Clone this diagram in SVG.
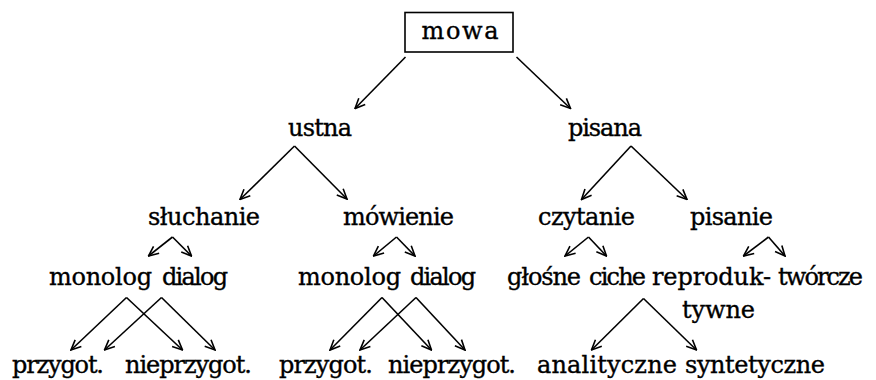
<svg xmlns="http://www.w3.org/2000/svg" width="876" height="380" viewBox="0 0 876 380">
<style>
.c line{stroke:#000;stroke-width:1.6;fill:none;marker-end:url(#ah)}
.box{fill:none;stroke:#000;stroke-width:1.6}
</style>
<defs>
<marker id="ah" markerUnits="userSpaceOnUse" markerWidth="12" markerHeight="12" viewBox="0 0 12 12" refX="11" refY="6" orient="auto">
<path d="M1,1.5 L11,6 L1,10.5" fill="none" stroke="#000" stroke-width="1.6"/>
</marker>
</defs>
<rect width="876" height="380" fill="#fff"/>
<g font-family="DejaVu Serif, Liberation Serif, serif" font-size="24" fill="#000" stroke="#000" stroke-width="0.35">
<g id="mowa"><rect class="box" x="405" y="12.5" width="108" height="39.5"/><text x="421.5" y="39" font-size="24" textLength="77" lengthAdjust="spacing">mowa</text></g>
<g id="ustna"><text x="288" y="136" textLength="64" lengthAdjust="spacing">ustna</text></g>
<g id="pisana"><text x="568" y="136" textLength="74" lengthAdjust="spacing">pisana</text></g>
<g id="sluchanie"><text x="148" y="225" textLength="112" lengthAdjust="spacing">słuchanie</text></g>
<g id="mowienie"><text x="343" y="225" textLength="111" lengthAdjust="spacing">mówienie</text></g>
<g id="czytanie"><text x="538" y="225" textLength="97" lengthAdjust="spacing">czytanie</text></g>
<g id="pisanie"><text x="690" y="225" textLength="83" lengthAdjust="spacing">pisanie</text></g>
<g id="monolog1"><text x="49" y="285" textLength="103" lengthAdjust="spacing">monolog</text></g>
<g id="dialog1"><text x="162" y="285" textLength="66" lengthAdjust="spacing">dialog</text></g>
<g id="monolog2"><text x="298" y="285" textLength="103" lengthAdjust="spacing">monolog</text></g>
<g id="dialog2"><text x="410" y="285" textLength="66" lengthAdjust="spacing">dialog</text></g>
<g id="glosne"><text x="507" y="285" textLength="74" lengthAdjust="spacing">głośne</text></g>
<g id="ciche"><text x="589" y="285" textLength="57" lengthAdjust="spacing">ciche</text></g>
<g id="reproduktywne"><text x="652" y="285" textLength="119" lengthAdjust="spacing">reproduk-</text><text x="682" y="318" textLength="73" lengthAdjust="spacing">tywne</text></g>
<g id="tworcze"><text x="778" y="285" textLength="85" lengthAdjust="spacing">twórcze</text></g>
<g id="przygot1"><text x="12" y="373" textLength="92" lengthAdjust="spacing">przygot.</text></g>
<g id="nieprzygot1"><text x="125" y="373" textLength="127" lengthAdjust="spacing">nieprzygot.</text></g>
<g id="przygot2"><text x="279" y="373" textLength="94" lengthAdjust="spacing">przygot.</text></g>
<g id="nieprzygot2"><text x="388" y="373" textLength="128" lengthAdjust="spacing">nieprzygot.</text></g>
<g id="analityczne"><text x="537" y="373" textLength="140" lengthAdjust="spacing">analityczne</text></g>
<g id="syntetyczne"><text x="685" y="373" textLength="140" lengthAdjust="spacing">syntetyczne</text></g>
</g>
<g class="c" id="connectors">
<line x1="405.5" y1="57" x2="355" y2="108.5"/>
<line x1="516.5" y1="57" x2="570.5" y2="108.5"/>
<line x1="294.5" y1="146" x2="240" y2="199.5"/>
<line x1="294.5" y1="146" x2="347" y2="199"/>
<line x1="631" y1="146" x2="581.5" y2="199.5"/>
<line x1="631" y1="146" x2="687" y2="199.5"/>
<line x1="172.5" y1="237" x2="148.5" y2="256"/>
<line x1="172.5" y1="237" x2="191.5" y2="256"/>
<line x1="396.5" y1="237" x2="373.5" y2="256"/>
<line x1="396.5" y1="237" x2="415" y2="256"/>
<line x1="588.5" y1="237" x2="565" y2="256"/>
<line x1="588.5" y1="237" x2="606.5" y2="256"/>
<line x1="768.5" y1="237" x2="743.5" y2="256"/>
<line x1="768.5" y1="237" x2="785" y2="256"/>
<line x1="126.5" y1="297.5" x2="71" y2="350"/>
<line x1="126.5" y1="297.5" x2="182.5" y2="350"/>
<line x1="161.5" y1="297.5" x2="104.5" y2="350"/>
<line x1="161.5" y1="297.5" x2="215" y2="350"/>
<line x1="382" y1="297.5" x2="330" y2="350"/>
<line x1="382" y1="297.5" x2="431.5" y2="350"/>
<line x1="416" y1="297.5" x2="360" y2="350"/>
<line x1="416" y1="297.5" x2="465" y2="350"/>
<line x1="643.5" y1="298.5" x2="591.5" y2="350"/>
<line x1="643.5" y1="298.5" x2="696.5" y2="350"/>
</g>
</svg>
